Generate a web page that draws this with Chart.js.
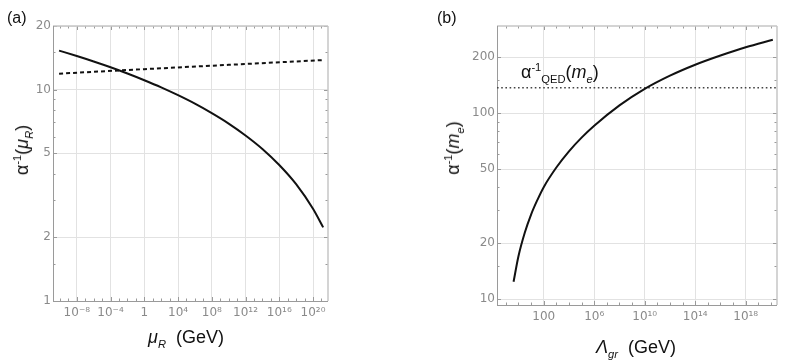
<!DOCTYPE html>
<html>
<head>
<meta charset="utf-8">
<script src="https://cdn.jsdelivr.net/npm/chart.js@4"></script>
<style>
  html, body { margin: 0; padding: 0; background: #fff; }
  #wrap { position: relative; width: 785px; height: 363px; overflow: hidden;
          font-family: "Liberation Sans", Arial, sans-serif; color: #111; }
  .box { position: absolute; top: 0; height: 363px; }
  .lab { position: absolute; white-space: nowrap; line-height: 1; font-size: 18px; }
  .rot { transform: translate(-50%, -50%) rotate(-90deg); }
  .ctr { transform: translateX(-50%); }
  sup, sub { line-height: 0; font-size: 0.62em; }
</style>
</head>
<body>
<div id="wrap">
  <div class="box" style="left:0;width:340px"><canvas id="chartA" width="340" height="363"></canvas></div>
  <div class="box" style="left:392px;width:393px"><canvas id="chartB" width="393" height="363"></canvas></div>

  <div class="lab" style="left:7px;top:10px;font-size:16px">(a)</div>
  <div class="lab" style="left:437px;top:10px;font-size:16px">(b)</div>

  <div class="lab rot" style="left:22px;top:150px">α<sup>-1</sup>(<i>μ<sub>R</sub></i>)</div>
  <div class="lab ctr" style="left:186px;top:328px"><i>μ<sub>R</sub></i>&nbsp;&nbsp;(GeV)</div>

  <div class="lab rot" style="left:453px;top:148px">α<sup>-1</sup>(<i>m<sub>e</sub></i>)</div>
  <div class="lab ctr" style="left:636px;top:338px"><i>Λ<sub>gr</sub></i>&nbsp;&nbsp;(GeV)</div>
  <div class="lab" style="left:521px;top:63px">α<sup>-1</sup><sub>QED</sub>(<i>m<sub>e</sub></i>)</div>
</div>

<script>
// (a) inverse coupling vs renormalisation scale
const muR = [7.9e-11, 1e-8, 1e-6, 1e-4, 1e-2, 1, 1e2, 1e4, 1e6, 1e8, 1e10, 1e12, 1e14, 1e16, 1e18, 1e20, 1.6e21];
const alphaInvMu = [15.3, 14.42, 13.59, 12.76, 11.92, 11.08, 10.25, 9.41, 8.58, 7.74, 6.91, 6.07, 5.24, 4.4, 3.57, 2.73, 2.23];
const muDashed = [7.9e-11, 1, 1e10, 1.6e21];
const alphaInvDashed = [11.9, 12.5, 13.1, 13.8];
const muTicks = [1e-8, 1e-4, 1, 1e4, 1e8, 1e12, 1e16, 1e20];
const alphaTicksA = [1, 2, 5, 10, 20];

// (b) alpha^-1(m_e) vs gravity scale
const lambdaGr = [0.41, 1, 3.2, 10, 32, 100, 1e3, 1e4, 1e5, 1e6, 1e8, 1e10, 1e12, 1e14, 1e16, 1e18, 1.4e20];
const alphaInvMe = [12.4, 17.0, 22.8, 28.5, 34.2, 40.0, 51.0, 62.3, 73.8, 85.5, 110, 135, 159, 182, 204, 226, 248];
const alphaQED = 137;
const lambdaTicks = [100, 1e6, 1e10, 1e14, 1e18];
const alphaTicksB = [10, 20, 50, 100, 200];

const SUP = { '-': '⁻', '0': '⁰', '1': '¹', '2': '²', '3': '³', '4': '⁴', '5': '⁵', '6': '⁶', '7': '⁷', '8': '⁸', '9': '⁹' };
function powLabel(v) {
  const e = Math.round(Math.log10(v));
  if (e === 0) return '1';
  if (e === 2) return '100';
  return '10' + String(e).split('').map(c => SUP[c]).join('');
}

function decades(from, to, skip) {
  const out = [];
  for (let e = from; e <= to; e++) if (!skip(e)) out.push(Math.pow(10, e));
  return out;
}

// mathematica-like frame with inward ticks on all four sides
const framePlugin = {
  id: 'frame',
  beforeDatasetsDraw(chart, args, opts) {
    const { ctx, chartArea: a, scales: { x, y } } = chart;
    const line = (x1, y1, x2, y2) => { ctx.beginPath(); ctx.moveTo(x1, y1); ctx.lineTo(x2, y2); ctx.stroke(); };
    ctx.save();
    ctx.strokeStyle = '#9a9a9a';
    ctx.lineWidth = 1;
    const xt = (v, len) => {
      const p = Math.round(x.getPixelForValue(v)) + 0.5;
      if (p < a.left || p > a.right) return;
      line(p, a.bottom, p, a.bottom - len);
      line(p, a.top, p, a.top + len);
    };
    const yt = (v, len) => {
      const p = Math.round(y.getPixelForValue(v)) + 0.5;
      if (p < a.top || p > a.bottom) return;
      line(a.left, p, a.left + len, p);
      line(a.right, p, a.right - len, p);
    };
    opts.xMajor.forEach(v => xt(v, 4));
    opts.xMinor.forEach(v => xt(v, 2.5));
    opts.yMajor.forEach(v => yt(v, 4));
    opts.yMinor.forEach(v => yt(v, 2.5));

    ctx.strokeStyle = '#c6c6c6';
    ctx.lineWidth = 1.5;
    line(a.left, a.top, a.right, a.top);
    line(a.right, a.top, a.right, a.bottom);
    ctx.strokeStyle = '#9a9a9a';
    ctx.lineWidth = 1;
    line(a.left + 0.5, a.top, a.left + 0.5, a.bottom);
    line(a.left, a.bottom + 0.5, a.right, a.bottom + 0.5);
    ctx.restore();
  }
};

const tickFont = { family: 'DejaVu Sans', size: 12 };
const tickColor = '#8a8a8a';
const gridColor = '#e2e2e2';

function logAxis(min, max, ticks, fmt, fit, padding) {
  return {
    type: 'logarithmic',
    min: min,
    max: max,
    bounds: 'data',
    afterBuildTicks: s => { s.ticks = ticks.map(v => ({ value: v })); },
    afterFit: fit,
    ticks: { callback: fmt, color: tickColor, font: tickFont, padding: padding, maxRotation: 0, autoSkip: false },
    grid: { color: gridColor, lineWidth: 1, drawTicks: false },
    border: { display: false }
  };
}

new Chart(document.getElementById('chartA'), {
  type: 'line',
  data: {
    datasets: [
      {
        data: muR.map((m, i) => ({ x: m, y: alphaInvMu[i] })),
        borderColor: '#111', borderWidth: 2, pointRadius: 0, cubicInterpolationMode: 'monotone'
      },
      {
        data: muDashed.map((m, i) => ({ x: m, y: alphaInvDashed[i] })),
        borderColor: '#111', borderWidth: 2, borderDash: [4, 3], pointRadius: 0
      }
    ]
  },
  options: {
    responsive: false,
    animation: false,
    events: [],
    layout: { padding: { top: 26, right: 12, left: 0, bottom: 0 } },
    plugins: {
      legend: { display: false },
      tooltip: { enabled: false },
      frame: {
        xMajor: muTicks,
        xMinor: decades(-10, 21, e => e % 4 === 0),
        yMajor: alphaTicksA,
        yMinor: [1.5, 3, 4, 6, 7, 8, 9, 15]
      }
    },
    scales: {
      x: logAxis(1.5e-11, 6e21, muTicks, v => powLabel(v), s => { s.height = 62; }, 5),
      y: logAxis(1, 20, alphaTicksA, v => String(v), s => { s.width = 53; }, 2)
    }
  },
  plugins: [framePlugin]
});

const xMinB = 0.02, xMaxB = 3e20;
new Chart(document.getElementById('chartB'), {
  type: 'line',
  data: {
    datasets: [
      {
        data: lambdaGr.map((l, i) => ({ x: l, y: alphaInvMe[i] })),
        borderColor: '#111', borderWidth: 2, pointRadius: 0, cubicInterpolationMode: 'monotone'
      },
      {
        data: [{ x: xMinB, y: alphaQED }, { x: xMaxB, y: alphaQED }],
        borderColor: '#444', borderWidth: 1.6, borderDash: [1.6, 2.6], pointRadius: 0
      }
    ]
  },
  options: {
    responsive: false,
    animation: false,
    events: [],
    layout: { padding: { top: 26, right: 8, left: 0, bottom: 0 } },
    plugins: {
      legend: { display: false },
      tooltip: { enabled: false },
      frame: {
        xMajor: lambdaTicks,
        xMinor: decades(-1, 20, e => (e - 2) % 4 === 0),
        yMajor: alphaTicksB,
        yMinor: [15, 30, 40, 60, 70, 80, 90, 150]
      }
    },
    scales: {
      x: logAxis(xMinB, xMaxB, lambdaTicks, v => powLabel(v), s => { s.height = 58; }, 5),
      y: logAxis(9.3, 294, alphaTicksB, v => String(v), s => { s.width = 105; }, 2)
    }
  },
  plugins: [framePlugin]
});
</script>
</body>
</html>
